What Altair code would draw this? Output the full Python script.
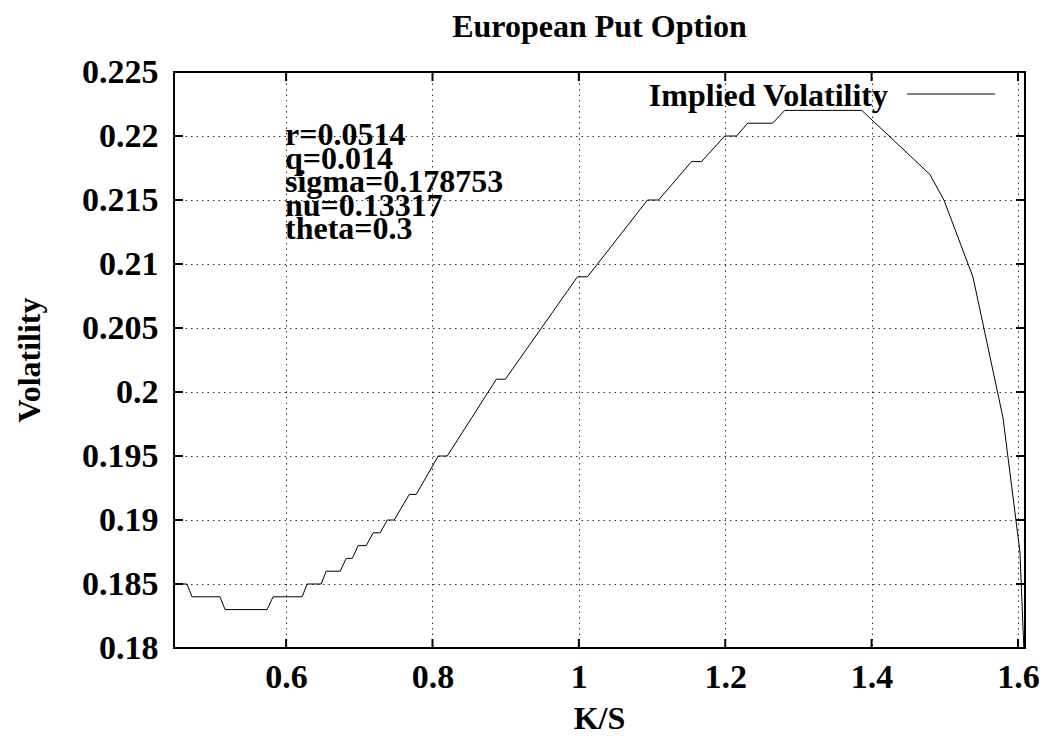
import altair as alt
import pandas as pd

# K/S values and implied volatility (vertices)
ks = [0.4468, 0.4646, 0.4714, 0.5097, 0.5166, 0.5740, 0.5822, 0.6219, 0.6287,
      0.6479, 0.6547, 0.6739, 0.6821, 0.6903, 0.6985, 0.7094, 0.7190, 0.7286,
      0.7382, 0.7477, 0.7683, 0.7778, 0.8079, 0.8202, 0.8873, 0.8996, 0.9981,
      1.0118, 1.0938, 1.1089, 1.1540, 1.1676, 1.1992, 1.2156, 1.2306, 1.2648,
      1.2813, 1.3866, 1.4796, 1.4988, 1.5384, 1.5795, 1.6027, 1.6080]
vol = [0.185, 0.185, 0.184, 0.184, 0.183, 0.183, 0.184, 0.184, 0.185,
       0.185, 0.186, 0.186, 0.187, 0.187, 0.188, 0.188, 0.189, 0.189,
       0.190, 0.190, 0.192, 0.192, 0.195, 0.195, 0.201, 0.201, 0.209,
       0.209, 0.215, 0.215, 0.218, 0.218, 0.220, 0.220, 0.221, 0.221,
       0.222, 0.222, 0.217, 0.215, 0.209, 0.198, 0.1875, 0.180]

x_ticks = [0.6, 0.8, 1.0, 1.2, 1.4, 1.6]
y_ticks = [0.18, 0.185, 0.19, 0.195, 0.2, 0.205, 0.21, 0.215, 0.22, 0.225]
params = ["r=0.0514", "q=0.014", "sigma=0.178753", "nu=0.13317", "theta=0.3"]
title_text = "European Put Option"
x_title = "K/S"
y_title = "Volatility"
legend_label = "Implied Volatility"

W, H = 851, 576
FONT = "Liberation Serif"
FS = 32
LFS = 34

xs = alt.Scale(domain=[0.4468, 1.6096], nice=False, zero=False)
ys = alt.Scale(domain=[0.18, 0.225], nice=False, zero=False)

x_axis = alt.Axis(
    values=x_ticks, format=".1~f", grid=True, gridDash=[1.5, 4],
    gridColor="#000", gridOpacity=0.8, gridWidth=1, tickSize=0, domain=False,
    labelFont=FONT, labelFontSize=LFS, labelFontWeight="bold",
    labelColor="black", labelPadding=12, title=None)
y_axis = alt.Axis(
    values=y_ticks, format=".3~f", grid=True, gridDash=[1.5, 4],
    gridColor="#000", gridOpacity=0.8, gridWidth=1, tickSize=0, domain=False,
    labelFont=FONT, labelFontSize=LFS, labelFontWeight="bold",
    labelColor="black", labelPadding=16, title=None)

df = pd.DataFrame({"ks": ks, "vol": vol})

line = alt.Chart(df).mark_line(color="black", strokeWidth=1, clip=True).encode(
    x=alt.X("ks:Q", scale=xs, axis=x_axis),
    y=alt.Y("vol:Q", scale=ys, axis=y_axis),
)

xt = pd.DataFrame({"ks": x_ticks})
yt = pd.DataFrame({"vol": y_ticks})
tick_b = alt.Chart(xt).mark_rule(color="black", strokeWidth=2).encode(
    x=alt.X("ks:Q", scale=xs, axis=x_axis), y=alt.value(H), y2=alt.value(H - 9))
tick_t = alt.Chart(xt).mark_rule(color="black", strokeWidth=2).encode(
    x=alt.X("ks:Q", scale=xs, axis=x_axis), y=alt.value(0), y2=alt.value(9))
tick_l = alt.Chart(yt).mark_rule(color="black", strokeWidth=2).encode(
    y=alt.Y("vol:Q", scale=ys, axis=y_axis), x=alt.value(0), x2=alt.value(9))
tick_r = alt.Chart(yt).mark_rule(color="black", strokeWidth=2).encode(
    y=alt.Y("vol:Q", scale=ys, axis=y_axis), x=alt.value(W), x2=alt.value(W - 9))

one = pd.DataFrame({"a": [0]})
txt = dict(font=FONT, fontSize=FS, fontWeight="bold", color="black")

title = alt.Chart(one).mark_text(text=title_text, align="center",
                                 baseline="alphabetic", **txt).encode(
    x=alt.value(W / 2), y=alt.value(-35))
xlab = alt.Chart(one).mark_text(text=x_title, align="center",
                                baseline="alphabetic", **txt).encode(
    x=alt.value(W / 2), y=alt.value(657))
ylab = alt.Chart(one).mark_text(text=y_title, align="center",
                                baseline="middle", angle=270, **txt).encode(
    x=alt.value(-144), y=alt.value(288))
ann = alt.Chart(one).mark_text(text=params, align="left", lineHeight=23.5,
                               baseline="alphabetic", **txt).encode(
    x=alt.value(111), y=alt.value(73))
leg_t = alt.Chart(one).mark_text(text=legend_label, align="right",
                                 baseline="alphabetic", **txt).encode(
    x=alt.value(714), y=alt.value(34))
leg_l = alt.Chart(one).mark_rule(color="black", strokeWidth=1).encode(
    x=alt.value(733), x2=alt.value(821), y=alt.value(22))

chart = alt.layer(line, tick_b, tick_t, tick_l, tick_r, title, xlab, ylab,
                  ann, leg_t, leg_l).properties(
    width=W, height=H, autosize="none", background="white",
    padding={"left": 166, "top": 64, "right": 18, "bottom": 87},
).configure_view(stroke="black", strokeWidth=2)

chart.save("out.html", embed_options={"renderer": "svg", "actions": False})
